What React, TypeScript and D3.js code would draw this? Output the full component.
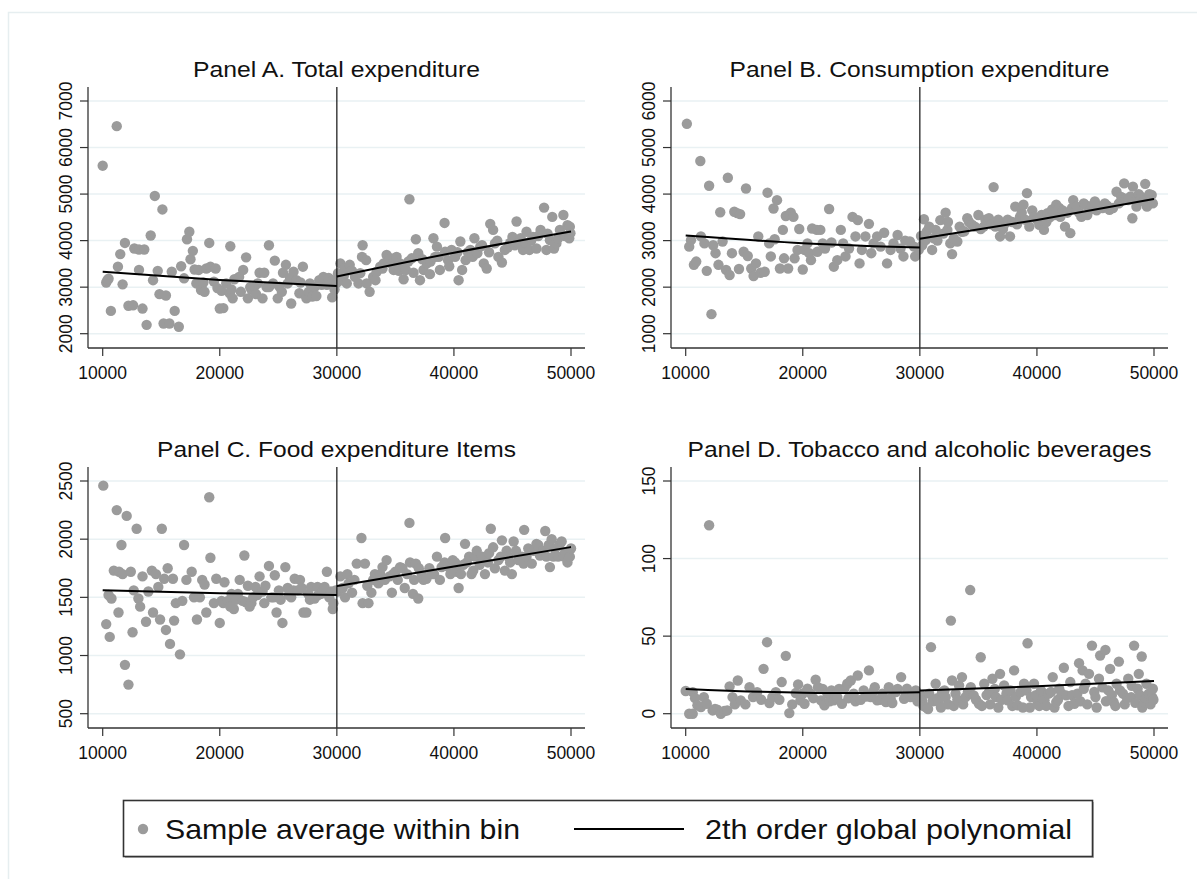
import * as d3 from "d3";

const W = 1197;
const H = 879;
const FONT = "'Liberation Sans', Arial, sans-serif";

// x ticks are the same for all four panels
const xTicks = [10000, 20000, 30000, 40000, 50000];
const cutoff = 30000;

// Panel A. Total expenditure (sample average within bin)
const aPoints = [
  [10000, 5610], [10300, 3100], [10400, 3150], [10500, 3180], [10700, 2490], [11200, 6460], [11300, 3440], [11500, 3710],
  [11700, 3060], [11900, 3950], [12200, 2600], [12600, 2610], [12700, 3830], [13100, 3810], [13100, 3370], [13400, 2540],
  [13550, 3810], [13750, 2190], [14100, 4110], [14300, 3150], [14450, 4960], [14700, 3350], [14850, 2850], [15100, 4670],
  [15200, 2220], [15400, 2820], [15700, 2220], [15900, 3330], [16150, 2490], [16500, 2150], [16700, 3450], [16950, 3190],
  [17200, 4030], [17400, 4190], [17500, 3600], [17700, 3780], [17850, 3380], [18000, 3080], [18200, 3370], [18400, 2940],
  [18600, 3100], [18700, 2900], [18850, 3400], [19100, 3950], [19200, 3440], [19500, 3120], [19650, 3400], [19800, 2980],
  [20000, 2540], [20150, 2920], [20300, 2550], [20550, 3080], [20850, 2870], [20900, 3880], [21000, 2950], [21100, 2760],
  [21250, 3170], [21650, 3220], [21800, 2900], [22000, 3370], [22250, 3640], [22400, 2760], [22600, 3000], [22700, 2950],
  [22950, 3010], [23100, 2850], [23250, 3080], [23400, 3310], [23650, 2760], [23800, 3310], [24000, 3000], [24200, 3900],
  [24200, 3000], [24550, 3080], [24700, 3570], [24950, 2760], [25100, 3010], [25300, 2900], [25400, 3310], [25650, 3480],
  [25800, 3080], [26000, 3200], [26100, 2650], [26300, 3330], [26550, 3150], [26800, 2870], [26900, 3100], [27100, 3440],
  [27400, 2760], [27600, 2900], [27700, 3080], [27900, 2800], [28100, 3000], [28250, 2810], [28500, 3150], [28700, 3050],
  [28850, 3220], [29150, 3050], [29300, 3200], [29600, 2780], [29650, 3150], [29800, 2950], [29950, 3080],
  [30100, 3300], [30300, 3510], [30400, 3150], [30600, 3250], [30700, 3400], [30850, 3080], [31100, 3480], [31300, 3350],
  [31550, 3220], [31850, 3080], [32000, 3300], [32150, 3650], [32200, 3900], [32500, 3580], [32550, 3080], [32800, 2900],
  [33100, 3220], [33300, 3150], [33400, 3330], [33700, 3440], [33900, 3400], [34000, 3510], [34250, 3690], [34550, 3620],
  [34700, 3500], [34850, 3370], [35100, 3650], [35300, 3350], [35400, 3510], [35700, 3170], [35900, 3370], [36100, 3550],
  [36200, 4890], [36400, 3620], [36550, 3310], [36750, 4030], [36950, 3730], [37100, 3150], [37300, 3600], [37400, 3370],
  [37700, 3510], [37950, 3280], [38000, 3550], [38250, 4050], [38400, 3650], [38550, 3870], [38700, 3650], [38800, 3370],
  [39200, 4380], [39250, 3760], [39500, 3580], [39600, 3450], [39800, 3800], [40100, 3650], [40300, 3750], [40400, 3150],
  [40550, 3980], [40700, 3370], [41000, 3580], [41200, 3750], [41400, 3800], [41600, 3650], [41750, 4050], [42000, 3730],
  [42250, 3870], [42400, 3900], [42550, 3510], [42800, 3400], [43000, 3750], [43100, 4360], [43350, 4230], [43500, 3940],
  [43700, 4000], [43800, 3650], [44100, 3530], [44350, 3800], [44600, 3850], [44800, 3950], [45000, 4080], [45200, 3900],
  [45350, 4410], [45500, 3940], [45700, 4050], [45900, 3800], [46100, 3950], [46200, 4190], [46450, 3800], [46600, 4000],
  [46750, 4080], [47050, 3830], [47200, 4100], [47400, 4230], [47700, 4710], [47900, 3800], [48000, 4150], [48200, 4010],
  [48400, 4510], [48550, 3830], [48750, 3940], [48900, 4050], [49050, 4230], [49350, 4550], [49500, 4100], [49700, 4330],
  [49850, 4050], [49900, 4300], [49950, 4160],
];
const aFitLeft = [[10000, 3330], [20000, 3155], [30000, 3025]];
const aFitRight = [[30000, 3230], [40000, 3740], [50000, 4195]];

// Panel B. Consumption expenditure
const bPoints = [
  [10100, 5510], [10300, 2870], [10450, 3010], [10700, 2480], [10900, 2550], [11250, 4710], [11300, 3090], [11600, 2940],
  [11800, 2350], [12000, 4180], [12200, 1420], [12350, 2900], [12550, 2730], [12800, 2480], [12950, 3610], [13150, 2980],
  [13450, 2370], [13600, 4350], [13750, 2260], [13950, 2730], [14150, 3620], [14400, 3590], [14550, 2390], [14650, 3570],
  [14950, 2760], [15150, 4120], [15300, 2670], [15600, 2400], [15800, 2240], [16000, 2510], [16200, 3090], [16400, 2310],
  [16750, 2330], [16990, 4030], [17130, 2940], [17270, 2660], [17500, 3690], [17600, 3030], [17800, 3870], [18050, 2400],
  [18300, 3230], [18400, 2620], [18550, 3530], [18750, 2400], [18980, 3600], [19200, 3510], [19300, 2620], [19550, 2800],
  [19700, 3250], [20000, 2380], [20150, 2800], [20400, 2940], [20550, 2730], [20700, 2580], [20800, 3260], [21200, 3230],
  [21250, 2760], [21500, 3230], [21700, 2940], [21900, 2830], [22250, 3680], [22450, 2960], [22650, 2440], [22950, 2580],
  [23250, 3230], [23450, 2940], [23650, 2660], [23950, 2830], [24250, 3510], [24500, 3090], [24700, 3440], [24850, 2510],
  [25050, 2800], [25350, 3090], [25650, 3360], [25850, 2730], [26050, 2940], [26350, 3090], [26650, 2870], [26950, 3170],
  [27200, 2510], [27500, 2800], [27750, 2940], [28100, 3120], [28350, 2830], [28600, 2660], [28750, 3000], [29150, 2980],
  [29500, 2870], [29600, 2660], [29900, 2800],
  [30100, 3100], [30200, 2900], [30350, 3460], [30500, 3010], [30600, 3200], [30800, 3300], [31050, 2800], [31200, 3050],
  [31350, 3230], [31500, 3000], [31750, 3440], [32000, 3150], [32200, 3600], [32350, 3230], [32400, 3400], [32600, 2940],
  [32750, 2710], [32900, 3050], [33200, 2980], [33400, 3300], [33600, 3190], [33800, 3200], [34050, 3480], [34200, 3400],
  [34450, 3340], [34700, 3300], [35000, 3550], [35200, 3250], [35450, 3300], [35600, 3450], [35900, 3480], [36100, 3350],
  [36300, 4150], [36450, 3300], [36700, 3450], [36850, 3090], [37100, 3250], [37300, 3370], [37500, 3450], [37700, 3090],
  [37900, 3400], [38150, 3730], [38300, 3350], [38550, 3510], [38700, 3600], [38850, 3770], [39000, 3450], [39150, 4020],
  [39350, 3300], [39600, 3650], [39750, 3510], [40000, 3450], [40200, 3340], [40400, 3550], [40600, 3230], [40800, 3400],
  [40900, 3590], [41100, 3500], [41300, 3670], [41500, 3550], [41650, 3770], [41900, 3700], [42000, 3510], [42200, 3650],
  [42400, 3300], [42600, 3600], [42850, 3160], [43000, 3700], [43100, 3870], [43400, 3730], [43600, 3600], [43800, 3510],
  [44000, 3800], [44100, 3770], [44300, 3550], [44500, 3660], [44700, 3750], [44950, 3840], [45100, 3650], [45350, 3730],
  [45600, 3700], [45800, 3800], [46000, 3750], [46200, 3660], [46500, 3700], [46800, 4050], [47000, 3800], [47200, 3940],
  [47450, 4230], [47600, 3900], [47800, 3870], [48000, 3950], [48150, 3480], [48200, 4160], [48400, 3850], [48500, 3730],
  [48700, 4000], [48900, 3940], [49100, 3850], [49250, 4220], [49400, 3730], [49600, 4000], [49800, 3980], [49900, 3800],
];
const bFitLeft = [[10000, 3110], [20000, 2945], [30000, 2850]];
const bFitRight = [[30000, 3040], [40000, 3445], [50000, 3895]];

// Panel C. Food expenditure Items
const cPoints = [
  [10050, 2460], [10300, 1270], [10500, 1520], [10600, 1160], [10750, 1490], [10950, 1730], [11200, 2250], [11350, 1370],
  [11400, 1720], [11600, 1950], [11700, 1700], [11900, 920], [12050, 2200], [12200, 750], [12400, 1720], [12550, 1200],
  [12650, 1560], [12900, 2090], [13050, 1490], [13200, 1420], [13400, 1680], [13700, 1290], [13900, 1550], [14200, 1730],
  [14300, 1370], [14550, 1700], [14750, 1590], [14900, 1310], [15050, 2090], [15250, 1660], [15400, 1220], [15550, 1750],
  [15750, 1100], [16000, 1660], [16100, 1300], [16250, 1450], [16600, 1010], [16800, 1470], [16950, 1950], [17150, 1650],
  [17600, 1720], [17800, 1500], [18050, 1310], [18300, 1500], [18500, 1650], [18700, 1610], [18850, 1370], [19100, 2360],
  [19200, 1840], [19500, 1450], [19700, 1660], [20000, 1280], [20150, 1470], [20300, 1450], [20400, 1630], [20700, 1470],
  [20900, 1420], [21000, 1530], [21200, 1400], [21400, 1480], [21550, 1530], [21700, 1650], [21950, 1470], [22100, 1860],
  [22200, 1460], [22400, 1600], [22550, 1420], [22700, 1450], [22850, 1500], [23050, 1590], [23200, 1520], [23400, 1680],
  [23650, 1550], [23800, 1450], [23900, 1600], [24200, 1770], [24400, 1500], [24600, 1500], [24700, 1690], [24850, 1370],
  [25050, 1560], [25200, 1480], [25350, 1280], [25600, 1760], [25800, 1580], [25900, 1520], [26100, 1500], [26300, 1560],
  [26400, 1660], [26650, 1560], [26850, 1650], [27000, 1580], [27150, 1370], [27400, 1370], [27550, 1530], [27700, 1480],
  [27800, 1590], [28100, 1490], [28350, 1590], [28400, 1520], [28650, 1530], [28800, 1560], [28950, 1590], [29150, 1720],
  [29350, 1500], [29500, 1550], [29650, 1400], [29700, 1450], [29900, 1560],
  [30100, 1550], [30300, 1680], [30500, 1580], [30700, 1500], [30900, 1700], [31000, 1620], [31300, 1540], [31500, 1650],
  [31700, 1790], [32100, 2010], [32200, 1450], [32400, 1790], [32600, 1600], [32700, 1450], [32950, 1540], [33100, 1650],
  [33250, 1700], [33550, 1620], [33700, 1700], [33900, 1760], [34100, 1650], [34250, 1820], [34500, 1680], [34700, 1540],
  [34800, 1700], [35000, 1720], [35200, 1650], [35400, 1760], [35600, 1750], [35800, 1580], [36000, 1700], [36200, 2140],
  [36250, 1800], [36500, 1530], [36600, 1650], [36750, 1790], [36950, 1490], [37000, 1750], [37250, 1700], [37400, 1650],
  [37650, 1660], [37900, 1750], [38100, 1700], [38300, 1700], [38550, 1850], [38800, 1650], [38950, 1760], [39200, 1800],
  [39250, 2010], [39550, 1760], [39700, 1700], [39900, 1820], [40100, 1800], [40250, 1720], [40400, 1580], [40600, 1700],
  [40800, 1780], [40950, 1960], [41100, 1800], [41300, 1850], [41500, 1700], [41650, 1730], [41800, 1850], [41950, 1900],
  [42200, 1780], [42400, 1850], [42650, 1700], [42900, 1800], [43000, 1880], [43150, 2090], [43350, 1930], [43500, 1750],
  [43800, 1820], [44000, 1850], [44100, 1990], [44350, 1730], [44500, 1900], [44650, 1850], [44800, 1800], [44950, 1700],
  [45100, 1980], [45300, 1900], [45500, 1820], [45800, 1850], [45950, 1790], [46000, 2080], [46200, 1850], [46350, 1920],
  [46650, 1790], [46800, 1900], [47050, 1960], [47200, 1950], [47350, 1860], [47600, 1900], [47800, 2070], [47900, 1850],
  [48100, 1950], [48200, 1760], [48350, 2000], [48500, 1850], [48650, 1920], [48900, 1850], [49000, 1950], [49200, 1980],
  [49400, 1850], [49500, 1890], [49700, 1800], [49900, 1850], [50000, 1920],
];
const cFitLeft = [[10000, 1560], [20000, 1535], [30000, 1520]];
const cFitRight = [[30000, 1597], [40000, 1765], [50000, 1932]];

// Panel D. Tobacco and alcoholic beverages
const dPoints = [
  [10000, 14.6], [10300, 0], [10600, 13.9], [10600, 0], [10800, 10], [11000, 5.4], [11300, 4.3], [11550, 10.7],
  [11800, 6.4], [12000, 121.5], [12300, 2.1], [12500, 3], [12700, 2.6], [13000, 0], [13300, 1.7], [13550, 2.1],
  [13750, 17.6], [14000, 10.7], [14200, 6], [14450, 21.4], [14700, 8.6], [15100, 6], [15450, 17.1], [15750, 10.7],
  [16100, 13.9], [16450, 9], [16650, 28.9], [16950, 46.1], [17150, 6.9], [17400, 10.7], [17700, 13.9], [18000, 9],
  [18200, 20.4], [18550, 37.3], [18850, 0.4], [19100, 6], [19400, 13.3], [19600, 18.9], [19800, 8.6], [20000, 13],
  [20150, 6.4], [20400, 16.1], [20700, 12.9], [20900, 10], [21100, 21.9], [21300, 17.1], [21550, 8.6], [21700, 16],
  [21850, 5.4], [22100, 12.9], [22300, 8], [22450, 15], [22650, 8.6], [22800, 12], [22950, 10.7], [23100, 16],
  [23350, 6.4], [23550, 16.1], [23800, 19.3], [23900, 10], [24100, 21.4], [24350, 12.9], [24500, 8], [24700, 24.6],
  [24950, 9], [25200, 15], [25400, 11], [25650, 27.9], [25800, 10.7], [26000, 14], [26150, 17.1], [26350, 8.6],
  [26600, 9], [26800, 12.9], [27100, 7.5], [27350, 17.1], [27500, 10], [27650, 6.9], [27950, 13.9], [28100, 16],
  [28400, 23.6], [28650, 9.6], [28800, 12], [28900, 16.1], [29200, 10.7], [29400, 13], [29650, 15], [29800, 8],
  [29900, 11.8],
  [30100, 12], [30200, 8.6], [30300, 5], [30500, 4.3], [30700, 3], [30800, 12.9], [30950, 42.9], [31100, 8],
  [31350, 19.3], [31500, 10], [31600, 7.5], [31800, 4], [31900, 13.9], [32100, 15], [32200, 10.7], [32400, 6],
  [32650, 60], [32750, 21.4], [32900, 5], [33050, 12.9], [33200, 9], [33350, 18.2], [33600, 23.6], [33700, 6],
  [33900, 10.7], [34100, 14], [34300, 79.7], [34350, 17.1], [34600, 11.8], [34800, 9], [35050, 6.4], [35200, 36.4],
  [35300, 5], [35500, 19.3], [35700, 12], [35900, 13.9], [36000, 6], [36200, 22.5], [36400, 16], [36500, 10.7],
  [36700, 4], [36850, 25.7], [37000, 9], [37200, 18.2], [37400, 13], [37500, 8.6], [37750, 15], [37900, 5],
  [38050, 27.9], [38200, 11], [38350, 5.4], [38600, 13.9], [38800, 4], [38900, 19.3], [39100, 15], [39200, 45.4],
  [39400, 4], [39500, 10.7], [39750, 19.3], [39900, 12], [40050, 6.4], [40200, 5], [40350, 15], [40500, 10],
  [40650, 8.6], [40800, 5], [41000, 12.9], [41200, 14], [41350, 23.6], [41500, 4], [41650, 7.5], [41800, 9],
  [41900, 16.1], [42100, 13], [42300, 29.6], [42500, 11.8], [42700, 5], [42850, 20.4], [43000, 12], [43200, 6.4],
  [43450, 12.9], [43600, 32.6], [43700, 8], [43900, 27.9], [44000, 16], [44150, 19.3], [44300, 6], [44450, 25.7],
  [44700, 43.9], [44900, 14], [45000, 10.7], [45100, 4], [45300, 22.5], [45400, 37.5], [45600, 17], [45850, 41.1],
  [45900, 8], [46100, 15], [46250, 28.9], [46400, 12], [46550, 7.5], [46700, 5], [46800, 19.3], [47000, 33.6],
  [47100, 15], [47350, 12.9], [47500, 6], [47700, 10], [47800, 22.5], [48050, 10.7], [48100, 18], [48300, 43.9],
  [48400, 7], [48600, 16.1], [48700, 25.7], [48800, 12], [48950, 36.9], [49000, 4], [49150, 7.5], [49300, 10],
  [49350, 19.3], [49550, 12.9], [49700, 6], [49850, 10.7], [49900, 16.1], [49950, 9],
];
const dFitLeft = [[10000, 16], [20000, 13.5], [30000, 13.9]];
const dFitRight = [[30000, 15], [40000, 17.7], [50000, 21]];

const panels = [
  { title: "Panel A. Total expenditure", titleW: 287, points: aPoints, fitL: aFitLeft, fitR: aFitRight, yDomain: [2000, 7000], yTicks: [2000, 3000, 4000, 5000, 6000, 7000], left: 88, top: 87 },
  { title: "Panel B. Consumption expenditure", titleW: 380, points: bPoints, fitL: bFitLeft, fitR: bFitRight, yDomain: [1000, 6000], yTicks: [1000, 2000, 3000, 4000, 5000, 6000], left: 671, top: 87 },
  { title: "Panel C. Food expenditure Items", titleW: 359, points: cPoints, fitL: cFitLeft, fitR: cFitRight, yDomain: [500, 2500], yTicks: [500, 1000, 1500, 2000, 2500], left: 88, top: 467 },
  { title: "Panel D. Tobacco and alcoholic beverages", titleW: 464, points: dPoints, fitL: dFitLeft, fitR: dFitRight, yDomain: [0, 150], yTicks: [0, 50, 100, 150], left: 671, top: 467 },
];

const plotW = 497;
const plotH = 261;
const pad = 14;

function Panel({ p }: { p: any }) {
  const x = d3.scaleLinear().domain([10000, 50000]).range([p.left + pad + 0.7, p.left + plotW - pad]);
  const y = d3.scaleLinear().domain(p.yDomain).range([p.top + plotH - pad - 0.3, p.top + pad]);
  const bottom = p.top + plotH;
  const line = d3.line<number[]>().x(d => x(d[0])).y(d => y(d[1])).curve(d3.curveNatural);
  return (
    <g>
      {p.yTicks.map((t: number) => (
        <line key={"g" + t} x1={p.left} x2={p.left + plotW} y1={y(t)} y2={y(t)} stroke="#e9f1f3" strokeWidth={1.5} />
      ))}
      <text x={p.left + plotW / 2} y={p.top - 10} textAnchor="middle" fontSize={22} fontFamily={FONT} fill="#111"
        textLength={p.titleW} lengthAdjust="spacingAndGlyphs">{p.title}</text>
      {p.points.map((d: number[], i: number) => (
        <circle key={i} cx={x(d[0])} cy={y(d[1])} r={5.2} fill="#9b9b9b" />
      ))}
      <line x1={x(cutoff)} x2={x(cutoff)} y1={p.top} y2={bottom} stroke="#111" strokeWidth={1.2} />
      <path d={line(p.fitL) || ""} fill="none" stroke="#000" strokeWidth={2} />
      <path d={line(p.fitR) || ""} fill="none" stroke="#000" strokeWidth={2} />
      <line x1={p.left} x2={p.left} y1={p.top} y2={bottom} stroke="#333" strokeWidth={1.3} />
      <line x1={p.left} x2={p.left + plotW} y1={bottom} y2={bottom} stroke="#333" strokeWidth={1.3} />
      {p.yTicks.map((t: number) => (
        <g key={"y" + t}>
          <line x1={p.left - 8} x2={p.left} y1={y(t)} y2={y(t)} stroke="#333" strokeWidth={1.2} />
          <text transform={`translate(${p.left - 16},${y(t)}) rotate(-90)`} textAnchor="middle" fontSize={17.5} fontFamily={FONT} fill="#111">{t}</text>
        </g>
      ))}
      {xTicks.map(t => (
        <g key={"x" + t}>
          <line x1={x(t)} x2={x(t)} y1={bottom} y2={bottom + 8} stroke="#333" strokeWidth={1.2} />
          <text x={x(t)} y={bottom + 31} textAnchor="middle" fontSize={17.5} fontFamily={FONT} fill="#111">{t}</text>
        </g>
      ))}
    </g>
  );
}

export default function App() {
  return (
    <svg width={W} height={H} style={{ position: "absolute", left: 0, top: 0, background: "#fff" }}>
      <rect x={0} y={0} width={W} height={H} fill="#fff" />
      <rect x={8.5} y={12.5} width={W + 20} height={H + 20} fill="none" stroke="#e6eef0" strokeWidth={1.5} />
      {panels.map(p => <Panel key={p.title} p={p} />)}
      <g>
        <rect x={125} y={802} width={969} height={56} fill="#bbb" />
        <rect x={123.5} y={800.5} width={969} height={56} fill="#fff" stroke="#333" strokeWidth={1.6} />
        <circle cx={143} cy={829} r={5.2} fill="#9b9b9b" />
        <text x={165} y={839} fontSize={28} fontFamily={FONT} fill="#111" textLength={355} lengthAdjust="spacingAndGlyphs">Sample average within bin</text>
        <line x1={574} x2={684} y1={829} y2={829} stroke="#000" strokeWidth={2} />
        <text x={705} y={839} fontSize={28} fontFamily={FONT} fill="#111" textLength={367} lengthAdjust="spacingAndGlyphs">2th order global polynomial</text>
      </g>
    </svg>
  );
}
